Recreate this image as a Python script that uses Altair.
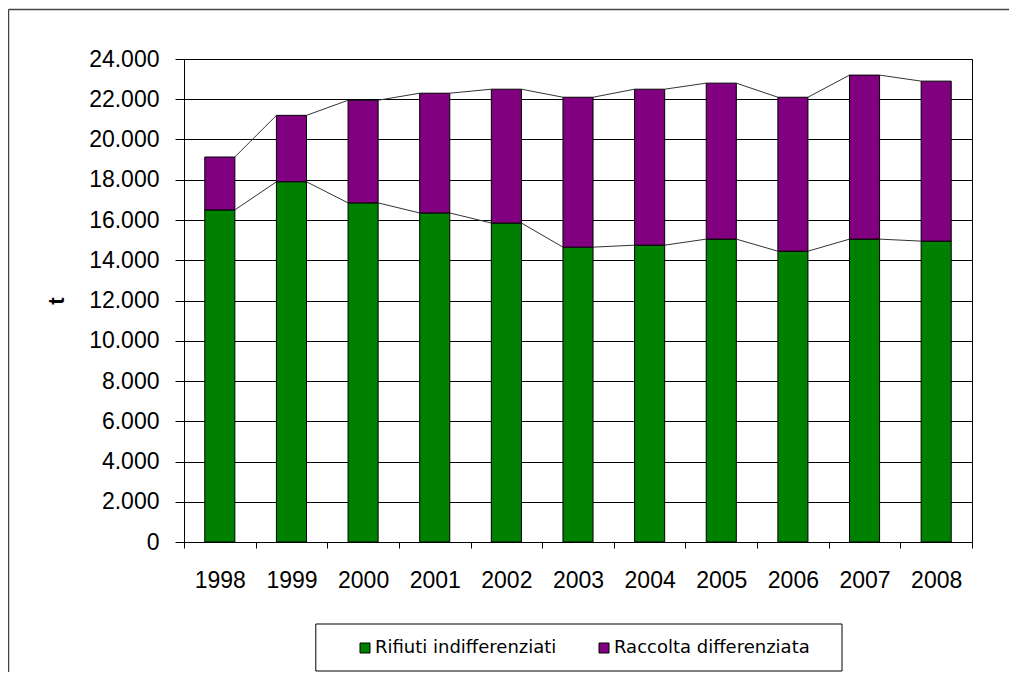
import altair as alt
import pandas as pd

# ---- data ----
years = ["1998", "1999", "2000", "2001", "2002", "2003", "2004", "2005", "2006", "2007", "2008"]
rifiuti_indifferenziati = [16500, 17900, 16850, 16350, 15850, 14650, 14750, 15050, 14450, 15050, 14950]
raccolta_differenziata = [2630, 3300, 5100, 5950, 6650, 7450, 7750, 7750, 7650, 8150, 7950]
series_names = ["Rifiuti indifferenziati", "Raccolta differenziata"]
series_colors = ["#008000", "#800080"]
y_ticks = list(range(0, 24001, 2000))

# ---- tables ----
rows = []
for i, anno in enumerate(years):
    rows.append({"anno": anno, "serie": series_names[0], "valore": rifiuti_indifferenziati[i], "ordine": 0})
    rows.append({"anno": anno, "serie": series_names[1], "valore": raccolta_differenziata[i], "ordine": 1})
bars_df = pd.DataFrame(rows)

totals = [a + b for a, b in zip(rifiuti_indifferenziati, raccolta_differenziata)]
seg_rows = []
for level in (rifiuti_indifferenziati, totals):
    for i in range(len(years) - 1):
        seg_rows.append({"anno": years[i], "anno2": years[i + 1], "v": level[i], "v2": level[i + 1]})
seg_df = pd.DataFrame(seg_rows)

one = pd.DataFrame({"k": [0]})

x_scale = alt.Scale(paddingInner=0, paddingOuter=0)

x_axis = alt.Axis(
    title=None, tickBand="extent", tickSize=6, labelPadding=21, labelAngle=0,
    domainColor="black", tickColor="black", grid=False,
    labelFont="Liberation Sans", labelFontSize=23, labelColor="black",
)
y_axis = alt.Axis(
    values=y_ticks,
    labelExpr="replace(format(datum.value, ','), ',', '.')",
    tickSize=9, labelPadding=16, grid=True, gridColor="black", gridWidth=1,
    domainColor="black", tickColor="black",
    labelFont="Liberation Sans", labelFontSize=23, labelColor="black",
    title="t", titleFont="Liberation Sans", titleFontSize=22, titleFontWeight="bold",
    titleColor="black", titleAngle=270, titleX=-128, titleY=241.5,
    titleAlign="center", titleBaseline="middle",
)

bars = alt.Chart(bars_df).mark_bar(
    stroke="black", strokeWidth=1, width=alt.RelativeBandSize(0.42)
).encode(
    x=alt.X("anno:N", scale=x_scale, axis=x_axis, sort=years),
    y=alt.Y("valore:Q", stack="zero", scale=alt.Scale(domain=[0, 24000], nice=False), axis=y_axis),
    color=alt.Color(
        "serie:N",
        scale=alt.Scale(domain=series_names, range=series_colors),
        legend=alt.Legend(
            title=None, orient="none", direction="horizontal",
            legendX=172, legendY=580, padding=0,
            symbolType="square", symbolSize=100,
            symbolStrokeColor="black", symbolStrokeWidth=1,
            labelFont="DejaVu Sans", labelFontSize=18, labelColor="black",
            labelOffset=1, columnPadding=38, labelLimit=400,
        ),
    ),
    order=alt.Order("ordine:Q"),
)

series_lines = alt.Chart(seg_df).mark_rule(
    color="#333333", strokeWidth=1, xOffset=15, x2Offset=-15
).encode(
    x=alt.X("anno:N", sort=years),
    x2="anno2:N",
    y="v:Q",
    y2="v2:Q",
)

legend_box = alt.Chart(one).mark_rect(
    fillOpacity=0, stroke="black", strokeWidth=1
).encode(
    x=alt.value(131.8), x2=alt.value(658), y=alt.value(565), y2=alt.value(612)
)

border_top = alt.Chart(one).mark_rule(color="#444444", strokeWidth=1.5).encode(
    x=alt.value(-175.5), x2=alt.value(830), y=alt.value(-49.5)
)
border_left = alt.Chart(one).mark_rule(color="#444444", strokeWidth=1.5).encode(
    x=alt.value(-175.5), y=alt.value(-49.5), y2=alt.value(640)
)

chart = alt.layer(bars, series_lines, legend_box, border_top, border_left).properties(
    width=788,
    height=483,
    padding={"left": 176, "top": 51, "right": 37, "bottom": 130},
    autosize=alt.AutoSizeParams(type="none"),
    background="white",
).configure_view(stroke="black", strokeWidth=1)

chart.save("out.html", embed_options={"renderer": "svg", "actions": False})
